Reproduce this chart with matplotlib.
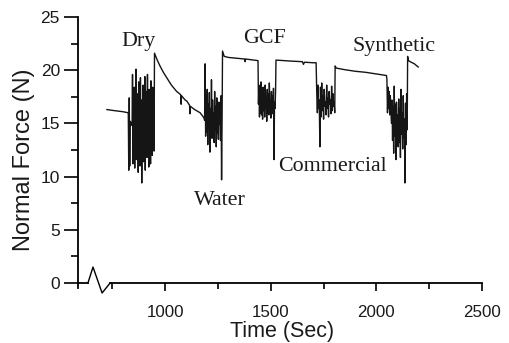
import numpy as np
import matplotlib
matplotlib.use("Agg")
import matplotlib.pyplot as plt

# ---------------- data ----------------
start_t = [725, 760, 800, 825]
start_v = [16.3, 16.2, 16.1, 16.0]

dry_pre_v = [16.0, 10.6, 17.4, 11.0, 15.2, 14.9, 15.1, 15.0, 14.8]
dry_v = [19.6, 11.2, 17.0, 12.4, 18.4, 10.8, 16.2, 13.0, 20.1, 11.6, 17.8, 12.2,
         15.8, 10.4, 18.9, 12.8, 16.6, 11.0, 19.3, 13.2, 17.2, 9.4, 16.0, 12.0,
         18.6, 11.4, 17.4, 12.6, 19.4, 10.6, 16.8, 13.4, 18.0, 11.8, 19.6, 12.2,
         16.4, 10.9, 18.2, 12.9, 17.6, 11.2, 19.0, 13.1, 16.9, 12.0, 18.4, 13.6,
         17.2, 12.4]

decay_t = [950, 962, 976, 992, 1008, 1030, 1055, 1074, 1076, 1078, 1095, 1103,
           1116, 1118, 1120, 1140, 1166, 1185]
decay_v = [21.6, 21.0, 20.4, 19.8, 19.3, 18.6, 18.0, 17.7, 16.8, 17.6, 17.2, 17.1,
           16.7, 15.9, 16.6, 16.3, 16.0, 15.5]

water_v = [15.3, 20.6, 13.8, 17.6, 14.2, 18.2, 13.0, 16.8, 14.6, 17.9, 12.3, 16.4,
           14.0, 19.1, 13.6, 17.2, 14.8, 16.0, 13.2, 18.0, 14.4, 16.6, 12.8, 17.4,
           14.1, 15.8, 13.5, 17.0, 14.9, 16.2, 13.4, 17.6, 9.7, 15.6]

flat1_t = [1272, 1280, 1300, 1350, 1377, 1379, 1381, 1400, 1440]
flat1_v = [21.8, 21.3, 21.2, 21.1, 21.05, 20.8, 21.05, 21.0, 20.9]

gcf_v = [16.8, 18.6, 15.6, 18.2, 16.0, 18.9, 15.8, 17.6, 15.4, 18.4, 16.2, 17.8,
         15.6, 18.6, 16.4, 17.4, 15.2, 18.2, 16.0, 17.8, 15.8, 18.8, 16.6, 17.2,
         15.5, 18.0, 16.2, 17.6, 15.9, 18.3, 11.6, 17.0, 16.4, 18.0]

flat2_t = [1525, 1560, 1600, 1650, 1655, 1660, 1700, 1715]
flat2_v = [20.95, 20.9, 20.85, 20.8, 20.55, 20.75, 20.7, 20.7]

comm_v = [17.8, 16.0, 18.6, 16.4, 17.2, 12.8, 18.4, 15.6, 18.8, 16.2, 17.6, 15.4,
          18.2, 16.6, 17.0, 15.8, 18.6, 16.4, 17.4, 15.6, 18.0, 16.8, 17.2, 15.9,
          18.5, 16.2, 17.8, 16.6, 17.0, 16.0]

flat3_t = [1805, 1810, 1850, 1900, 1950, 2000, 2048]
flat3_v = [20.4, 20.2, 20.05, 19.9, 19.8, 19.65, 19.5]

syn_v = [19.1, 16.0, 18.4, 16.4, 18.0, 15.8, 17.6, 16.2, 15.0, 17.2, 13.4, 16.6,
         12.2, 18.5, 13.8, 16.8, 11.6, 17.0, 14.2, 15.8, 12.8, 17.3, 13.2, 16.4,
         11.8, 18.2, 14.0, 16.0, 12.6, 17.6, 13.6, 15.4, 9.4, 16.9, 13.0, 17.8, 14.4]

end_t = [2148, 2152, 2160, 2180, 2198]
end_v = [21.3, 20.9, 20.8, 20.6, 20.3]

spans = {"dry_pre": (826, 844), "dry": (846, 948), "water": (1187, 1270),
         "gcf": (1442, 1523), "comm": (1718, 1803), "syn": (2050, 2146)}

# label text, centre time, baseline value
labels = [("Dry", 872, 22.3), ("Water", 1258, 7.35), ("GCF", 1469, 22.6),
          ("Commercial", 1791, 10.5), ("Synthetic", 2084, 21.8)]

x_ticks = [1000, 1500, 2000, 2500]
y_ticks = [0, 5, 10, 15, 20, 25]

# ---------------- build series ----------------
def noisy(key, vals):
    a, b = spans[key]
    return list(np.linspace(a, b, len(vals))), list(vals)

T, V = [], []
for t, v in [(start_t, start_v), noisy("dry_pre", dry_pre_v), noisy("dry", dry_v),
             (decay_t, decay_v), noisy("water", water_v), (flat1_t, flat1_v),
             noisy("gcf", gcf_v), (flat2_t, flat2_v), noisy("comm", comm_v),
             (flat3_t, flat3_v), noisy("syn", syn_v), (end_t, end_v)]:
    T += list(t)
    V += list(v)

# ---------------- figure ----------------
fig = plt.figure(figsize=(5.09, 3.43), dpi=100)
ax = fig.add_axes([78/509, 1-283/343, (482-78)/509, (283-17)/343])
ax.plot(T, V, color="#151515", lw=1.0)

xmin = 588
ax.set_xlim(xmin, 2500)
ax.set_ylim(0, 25)
ax.spines["top"].set_visible(False)
ax.spines["right"].set_visible(False)
for s in ["left", "bottom"]:
    ax.spines[s].set_linewidth(1.3)
ax.spines["bottom"].set_bounds(740, 2500)
# axis break and spine extension
ax.plot([xmin, 635], [0, 0], color="black", lw=1.3, clip_on=False)
ax.plot([xmin, xmin], [0, -0.5], color="black", lw=1.3, clip_on=False)
brk_x = [635, 659, 702, 740]
brk_y = [0, 1.5, -0.94, 0]
ax.plot(brk_x, brk_y, color="black", lw=1.0, clip_on=False)

ax.set_xticks(x_ticks)
ax.set_xticks([750, 1250, 1750, 2250], minor=True)
ax.set_yticks(y_ticks)
ax.set_yticks([2.5, 7.5, 12.5, 17.5, 22.5], minor=True)
ax.tick_params(axis="x", which="major", length=6, width=1.2, direction="out",
               labelsize=12.2, pad=10)
ax.tick_params(axis="x", which="minor", length=4, width=1.2, direction="out")
ax.tick_params(axis="y", which="major", length=10, width=1.2, direction="out",
               labelsize=12.5, pad=3)
ax.tick_params(axis="y", which="minor", length=5, width=1.2, direction="out")
for lab in ax.get_xticklabels() + ax.get_yticklabels():
    lab.set_fontfamily("Liberation Sans")
    lab.set_color("#1a1a1a")
ax.set_xlabel("Time (Sec)", fontsize=15.5, family="Liberation Sans",
              color="#1a1a1a")
ax.set_ylabel("Normal Force (N)", fontsize=17, family="Liberation Sans",
              color="#1a1a1a")
ax.xaxis.set_label_coords(0.504, (283-321)/266)
ax.yaxis.set_label_coords((35-78)/404, (283-160)/266)

for txt, x, y in labels:
    ax.text(x, y, txt, fontsize=15.8, family="Liberation Serif", ha="center",
            va="baseline", color="#1a1a1a")

fig.savefig("out.png", dpi=100)
